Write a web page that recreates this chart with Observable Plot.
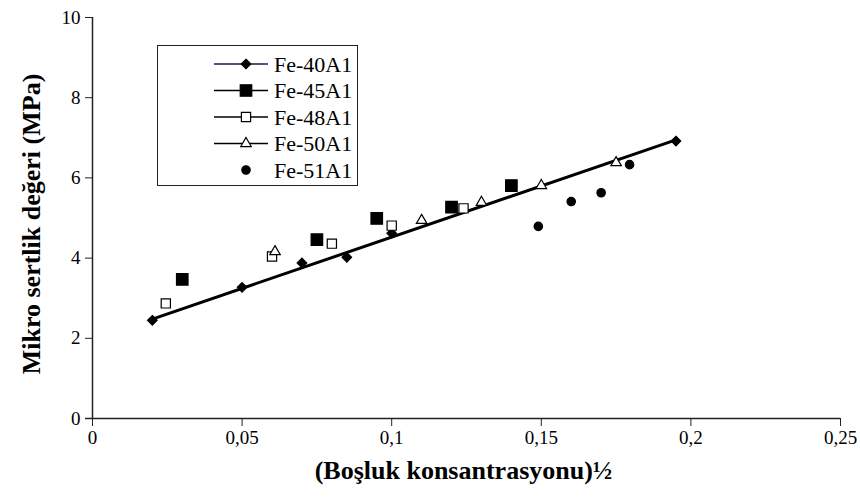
<!DOCTYPE html>
<html>
<head>
<meta charset="utf-8">
<script src="https://cdn.jsdelivr.net/npm/d3@7"></script>
<script src="https://cdn.jsdelivr.net/npm/@observablehq/plot@0.6"></script>
<style>
  body { margin: 0; background: #fff; }
  #wrap { position: relative; width: 860px; height: 499px; font-family: "Liberation Serif", "Times New Roman", serif; }
  #legend { position: absolute; left: 157px; top: 45px; width: 201px; height: 141px; border: 1.5px solid #222; background: #fff; box-sizing: border-box; }
  svg text { font-family: "Liberation Serif", "Times New Roman", serif !important; }
</style>
</head>
<body>
<div id="wrap"><div id="chart"></div><svg id="legend"></svg></div>
<script>
// Data
const seriesNames = ["Fe-40A1", "Fe-45A1", "Fe-48A1", "Fe-50A1", "Fe-51A1"];
const fe40x = [0.02, 0.05, 0.07, 0.085, 0.1, 0.195];
const fe40y = [2.45, 3.27, 3.88, 4.02, 4.62, 6.92];
const fe45x = [0.03, 0.075, 0.095, 0.12, 0.14];
const fe45y = [3.47, 4.46, 4.99, 5.27, 5.81];
const fe48x = [0.0245, 0.06, 0.08, 0.1, 0.124];
const fe48y = [2.87, 4.04, 4.36, 4.81, 5.24];
const fe50x = [0.061, 0.11, 0.13, 0.15, 0.175];
const fe50y = [4.16, 4.94, 5.39, 5.81, 6.38];
const fe51x = [0.149, 0.16, 0.17, 0.1795];
const fe51y = [4.79, 5.41, 5.63, 6.33];
const trendX = [0.02, 0.195];
const trendY = [2.48, 6.95];
const xTicks = [0, 0.05, 0.1, 0.15, 0.2, 0.25];
const yTicks = [0, 2, 4, 6, 8, 10];
const xTitle = "(Boşluk konsantrasyonu)½";
const yTitle = "Mikro sertlik değeri (MPa)";

const toRows = (xs, ys) => xs.map((x, i) => ({x, y: ys[i]}));
const fmt = d => String(d).replace(".", ",");

const styles = [
  {symbol: "diamond2", fill: "#000", stroke: "#000", r: 4.3, line: "#1a1a5a"},
  {symbol: "square", fill: "#000", stroke: "#000", r: 6.5, line: "#000"},
  {symbol: "square", fill: "#fff", stroke: "#000", r: 5.2, line: "#000"},
  {symbol: "triangle", fill: "#fff", stroke: "#000", r: 3.9, line: "#000"},
  {symbol: "circle", fill: "#000", stroke: "#000", r: 4.2, line: null}
];
const allData = [toRows(fe40x, fe40y), toRows(fe45x, fe45y), toRows(fe48x, fe48y), toRows(fe50x, fe50y), toRows(fe51x, fe51y)];

const font = '"Liberation Serif", "Times New Roman", serif';
const chart = Plot.plot({
  width: 860,
  height: 499,
  marginLeft: 92,
  marginRight: 20,
  marginTop: 17,
  marginBottom: 81,
  style: {fontFamily: font, fontSize: "19px", background: "#fff", color: "#000", overflow: "visible"},
  x: {type: "linear", domain: [0, 0.25]},
  y: {type: "linear", domain: [0, 10]},
  marks: [
    Plot.axisX({ticks: xTicks, tickFormat: fmt, tickSize: 8, tickPadding: 4, fontSize: 19, label: null, stroke: "#222"}),
    Plot.axisY({ticks: yTicks, tickSize: 7, tickPadding: 5, fontSize: 19, label: null, stroke: "#222"}),
    Plot.ruleX([0], {stroke: "#222", strokeWidth: 1.5}),
    Plot.ruleY([0], {stroke: "#222", strokeWidth: 1.5, insetLeft: -7}),
    Plot.line(toRows(trendX, trendY), {x: "x", y: "y", stroke: "#000", strokeWidth: 3}),
    ...allData.map((rows, i) => Plot.dot(rows, {x: "x", y: "y", symbol: () => styles[i].symbol, r: styles[i].r, fill: styles[i].fill, stroke: styles[i].stroke, strokeWidth: 1.2})),
    Plot.text([xTitle], {frameAnchor: "bottom", dy: 60, dx: -3, fontSize: 26, fontWeight: "bold", text: d => d}),
    Plot.text([yTitle], {frameAnchor: "left", textAnchor: "middle", dx: -61, dy: 6, rotate: -90, fontSize: 26, fontWeight: "bold", text: d => d})
  ]
});
document.getElementById("chart").append(chart);

// Legend
const leg = d3.select("#legend");
const symMap = {diamond2: d3.symbolDiamond2, square: d3.symbolSquare, triangle: d3.symbolTriangle, circle: d3.symbolCircle};
seriesNames.forEach((name, i) => {
  const yy = 18 + i * 26.5;
  const s = styles[i];
  if (s.line) leg.append("line").attr("x1", 56).attr("x2", 110).attr("y1", yy).attr("y2", yy).attr("stroke", s.line).attr("stroke-width", 1.3);
  leg.append("path").attr("d", d3.symbol(symMap[s.symbol], Math.PI * s.r * s.r)()).attr("transform", `translate(${88},${yy})`)
    .attr("fill", s.fill).attr("stroke", s.stroke).attr("stroke-width", 1.2);
  leg.append("text").attr("x", 116).attr("y", yy).attr("dy", "0.35em").attr("font-size", 22).text(name);
});
</script>
</body>
</html>
